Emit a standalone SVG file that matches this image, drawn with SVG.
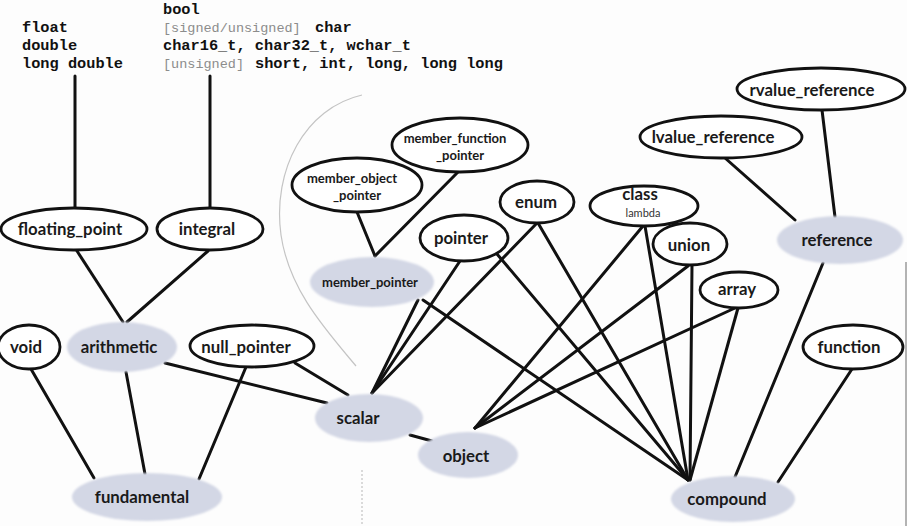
<svg xmlns="http://www.w3.org/2000/svg" width="907" height="526" viewBox="0 0 907 526">
  <defs>
    <filter id="soft" x="-20%" y="-30%" width="140%" height="160%">
      <feGaussianBlur stdDeviation="1.3"/>
    </filter>
    <style>
      .code { font-family: "Liberation Mono", "Courier New", monospace; font-size: 15.3px; font-weight: bold; fill: #111; }
      .opt { font-family: "Liberation Mono", "Courier New", monospace; font-size: 13.5px; fill: #8c8c8c; }
      .edge { stroke: #111; stroke-width: 3; fill: none; stroke-linecap: round; }
      .plain { fill: #fff; stroke: #111; stroke-width: 2.8; }
      .shade { fill: #d3d7e5; filter: url(#soft); }
      .lbl { font-family: Lato, "Noto Sans", sans-serif; font-weight: bold; font-size: 16.8px; fill: #1a1a1a; text-anchor: middle; }
      .sm { font-size: 13px; }
      .tiny { font-family: Lato, "Noto Sans", sans-serif; font-size: 11px; fill: #333; text-anchor: middle; }
      .guide { stroke: #c4c4c4; stroke-width: 1.2; fill: none; }
    </style>
  </defs>

  <rect width="907" height="526" fill="#fdfdfd"/>

  <!-- builtin type names -->
  <g id="type-list">
    <text class="code" x="163" y="14">bool</text>
    <text class="code" x="22" y="32">float</text>
    <text class="opt" x="163" y="32">[signed/unsigned]</text>
    <text class="code" x="315" y="32">char</text>
    <text class="code" x="22" y="50">double</text>
    <text class="code" x="163" y="50">char16_t, char32_t, wchar_t</text>
    <text class="code" x="22" y="68">long double</text>
    <text class="opt" x="163" y="68">[unsigned]</text>
    <text class="code" x="255" y="68">short, int, long, long long</text>
  </g>

  <!-- faint guide marks -->
  <g id="guides">
    <path class="guide" d="M 362 95 C 305 108 272 170 281 235 C 289 290 326 330 356 366"/>
    <line class="guide" x1="362" y1="470" x2="362" y2="524" stroke-dasharray="2 2"/>
    <line x1="906" y1="262" x2="906" y2="526" stroke="#9a9a9a" stroke-width="1.5"/>
  </g>

  <!-- connectors -->
  <g id="connectors">
    <line class="edge" x1="75" y1="76" x2="75" y2="208"/>
    <line class="edge" x1="210" y1="76" x2="210" y2="208"/>
    <line class="edge" x1="77" y1="251" x2="123" y2="322"/>
    <line class="edge" x1="208" y1="251" x2="127" y2="322"/>
    <line class="edge" x1="31" y1="369" x2="94" y2="478"/>
    <line class="edge" x1="126" y1="372" x2="145" y2="474"/>
    <line class="edge" x1="246" y1="367" x2="199" y2="479"/>
    <line class="edge" x1="165" y1="363" x2="327" y2="403"/>
    <line class="edge" x1="295" y1="363" x2="348" y2="395"/>
    <line class="edge" x1="410" y1="435" x2="432" y2="441"/>
    <line class="edge" x1="357" y1="212" x2="375" y2="256"/>
    <line class="edge" x1="458" y1="172" x2="375" y2="256"/>
    <line class="edge" x1="418" y1="300" x2="372" y2="393"/>
    <line class="edge" x1="460" y1="261" x2="372" y2="393"/>
    <line class="edge" x1="537" y1="223" x2="372" y2="393"/>
    <line class="edge" x1="423" y1="300" x2="688" y2="480"/>
    <line class="edge" x1="497" y1="254" x2="688" y2="480"/>
    <line class="edge" x1="538" y1="223" x2="688" y2="480"/>
    <line class="edge" x1="643" y1="226" x2="475" y2="428"/>
    <line class="edge" x1="645" y1="226" x2="688" y2="480"/>
    <line class="edge" x1="688" y1="266" x2="475" y2="428"/>
    <line class="edge" x1="692" y1="265" x2="690" y2="480"/>
    <line class="edge" x1="735" y1="308" x2="475" y2="428"/>
    <line class="edge" x1="738" y1="308" x2="690" y2="480"/>
    <line class="edge" x1="725" y1="158" x2="795" y2="220"/>
    <line class="edge" x1="822" y1="110" x2="835" y2="217"/>
    <line class="edge" x1="823" y1="263" x2="735" y2="477"/>
    <line class="edge" x1="852" y1="369" x2="778" y2="482"/>
  </g>

  <!-- nodes -->
  <g id="floating_point"><ellipse class="plain" cx="74" cy="229" rx="73" ry="21"/><text class="lbl" x="70" y="235">floating_point</text></g>
  <g id="integral"><ellipse class="plain" cx="210" cy="229" rx="53" ry="21"/><text class="lbl" x="207" y="235">integral</text></g>
  <g id="void"><ellipse class="plain" cx="29" cy="347" rx="31" ry="22"/><text class="lbl" x="26" y="353">void</text></g>
  <g id="arithmetic"><ellipse class="shade" cx="122" cy="347" rx="55" ry="25"/><text class="lbl" x="119" y="353">arithmetic</text></g>
  <g id="null_pointer"><ellipse class="plain" cx="252" cy="346" rx="62" ry="21"/><text class="lbl" x="246" y="353">null_pointer</text></g>
  <g id="fundamental"><ellipse class="shade" cx="147" cy="497" rx="75" ry="24"/><text class="lbl" x="142" y="503">fundamental</text></g>
  <g id="scalar"><ellipse class="shade" cx="369" cy="418" rx="54" ry="24"/><text class="lbl" x="358" y="424">scalar</text></g>
  <g id="object"><ellipse class="shade" cx="468" cy="455" rx="50" ry="23"/><text class="lbl" x="466" y="462">object</text></g>
  <g id="member_pointer"><ellipse class="shade" cx="372" cy="282" rx="62" ry="25"/><text class="lbl sm" x="370" y="287">member_pointer</text></g>
  <g id="member_object_pointer"><ellipse class="plain" cx="357" cy="185" rx="65" ry="27"/><text class="lbl sm" x="352" y="183">member_object</text><text class="lbl sm" x="357" y="200">_pointer</text></g>
  <g id="member_function_pointer"><ellipse class="plain" cx="460" cy="145" rx="68" ry="27"/><text class="lbl sm" x="455" y="143">member_function</text><text class="lbl sm" x="460" y="160">_pointer</text></g>
  <g id="enum"><ellipse class="plain" cx="537" cy="202" rx="37" ry="21"/><text class="lbl" x="536" y="208">enum</text></g>
  <g id="pointer"><ellipse class="plain" cx="464" cy="238" rx="44" ry="23"/><text class="lbl" x="461" y="244">pointer</text></g>
  <g id="class"><ellipse class="plain" cx="644" cy="206" rx="54" ry="20"/><text class="lbl" x="640" y="200">class</text><text class="tiny" x="643" y="217">lambda</text></g>
  <g id="union"><ellipse class="plain" cx="690" cy="244" rx="37" ry="21"/><text class="lbl" x="689" y="251">union</text></g>
  <g id="array"><ellipse class="plain" cx="739" cy="290" rx="39" ry="18"/><text class="lbl" x="737" y="295">array</text></g>
  <g id="reference"><ellipse class="shade" cx="840" cy="240" rx="63" ry="24"/><text class="lbl" x="837" y="246">reference</text></g>
  <g id="lvalue_reference"><ellipse class="plain" cx="721" cy="137" rx="81" ry="21"/><text class="lbl" x="713" y="143">lvalue_reference</text></g>
  <g id="rvalue_reference"><ellipse class="plain" cx="821" cy="89" rx="84" ry="21"/><text class="lbl" x="812" y="96">rvalue_reference</text></g>
  <g id="function"><ellipse class="plain" cx="853" cy="347" rx="50" ry="22"/><text class="lbl" x="849" y="353">function</text></g>
  <g id="compound"><ellipse class="shade" cx="733" cy="499" rx="62" ry="23"/><text class="lbl" x="727" y="505">compound</text></g>
</svg>
